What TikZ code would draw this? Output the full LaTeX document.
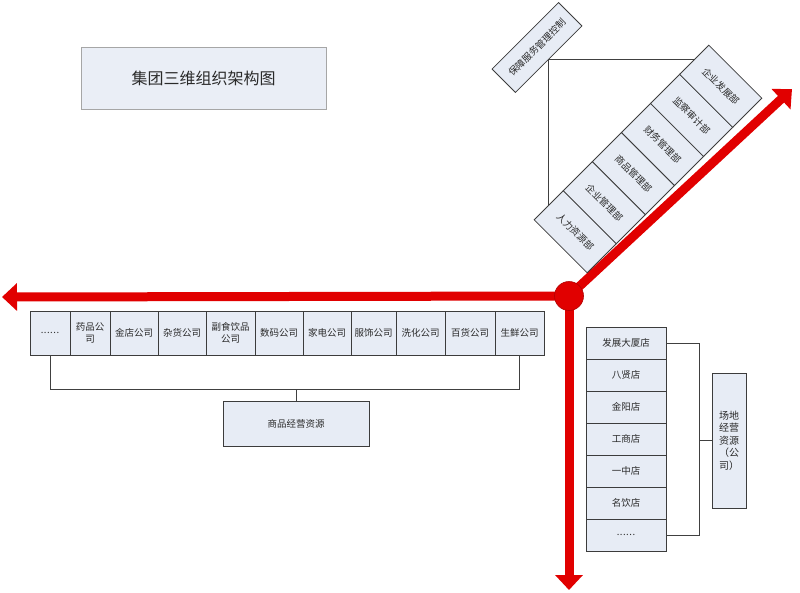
\documentclass[tikz,border=0pt]{standalone}
\usepackage{fontspec}
\setmainfont{Noto Sans CJK SC}
\usetikzlibrary{arrows.meta}
\definecolor{boxfill}{HTML}{E7ECF5}
\definecolor{titlefill}{HTML}{EAEEF6}
\definecolor{boxline}{HTML}{3C3C3C}
\definecolor{connline}{HTML}{404040}
\definecolor{arrred}{HTML}{E10000}
\definecolor{circline}{HTML}{B00000}
\definecolor{txt}{HTML}{2A2A2A}
\newcommand\mysixdots{.\kern0.5pt.\kern0.5pt.\kern0.5pt.\kern0.5pt.\kern0.5pt.}
\begin{document}
\begin{tikzpicture}[x=1pt,y=-1pt,
  box/.style={draw=boxline, fill=boxfill, line width=0.8pt, inner sep=1pt, text=txt,
    font=\fontsize{9.5}{11.5}\selectfont, align=center},
  rowbox/.style={box, minimum height=44pt},
  rbox/.style={box, minimum width=80pt, minimum height=32pt},
  dept/.style={box, rotate=-45, minimum width=75pt, minimum height=41.2pt},
  conn/.style={draw=connline, line width=0.8pt},
  redarrow/.style={draw=arrred, line width=9pt, -{Triangle[length=15pt,width=27pt]}}]
\fill[white] (0,0) rectangle (800,592);
\useasboundingbox (0,0) rectangle (800,592);

% title
\node[box, draw=gray!70, fill=titlefill, minimum width=245pt, minimum height=62pt,
  font=\fontsize{16}{18}\selectfont] (title) at (203.5,78) {集团三维组织架构图};

% red axes
\coordinate (o) at (569,296);
\coordinate (tl) at (2,297);
\coordinate (td) at (569,590);
\coordinate (tr) at (792,89);
\draw[redarrow] (o) -- (tl);
\draw[redarrow] (o) -- (td);
\draw[redarrow] (o) -- (tr);
\node[circle, fill=arrred, draw=circline, line width=0.6pt, minimum size=29pt, inner sep=0pt] (c) at (o) {};

% left row
\foreach \n/\cx/\w/\t in {0/50/40/\mysixdots, 1/90/40/{药品公\\司}, 2/134/48/金店公司,
  3/182/48/杂货公司, 4/230.5/49/{副食饮品\\公司}, 5/279/48/数码公司, 6/327/48/家电公司,
  7/373.5/45/服饰公司, 8/420.5/49/洗化公司, 9/470/50/百货公司, 10/519.5/49/生鲜公司}
  \node[rowbox, minimum width=\w pt] (w\n) at (\cx,333) {\t};
\node[box, minimum width=146pt, minimum height=45pt] (sp) at (296,423.5) {商品经营资源};
\draw[conn] (w0.south) -- (w0.south |- 0,389) -- (w10.south |- 0,389) -- (w10.south);
\draw[conn] (sp.north) -- (sp.north |- 0,389);

% right column
\foreach \i/\t in {0/发展大厦店, 1/八贤店, 2/金阳店, 3/工商店, 4/一中店, 5/名饮店, 6/\mysixdots}
  \node[rbox] (r\i) at (626,{343+32*\i}) {\t};
\node[box, minimum width=34pt, minimum height=135pt, font=\fontsize{10}{12.5}\selectfont]
  (sy) at (729,440.5) {场地\\经营\\资源\\（公\\司）};
\draw[conn] (r0.east) -- (r0.east -| 699,0) -- (r6.east -| 699,0) -- (r6.east);
\draw[conn] (sy.west) -- (sy.west -| 699,0);

% diagonal stack
\foreach \i/\t in {0/人力资源部, 1/企业管理部, 2/商品管理部, 3/财务管理部, 4/监察审计部, 5/企业发展部}
  \node[dept] (d\i) at ({648+(\i-2.5)*29.1},{159-(\i-2.5)*29.1}) {\t};
\node[box, rotate=45, minimum width=94pt, minimum height=33pt] (bz) at (537,47.5) {保障服务管理控制};
\draw[conn] (d5.west) -| (d0.west);
\end{tikzpicture}
\end{document}
